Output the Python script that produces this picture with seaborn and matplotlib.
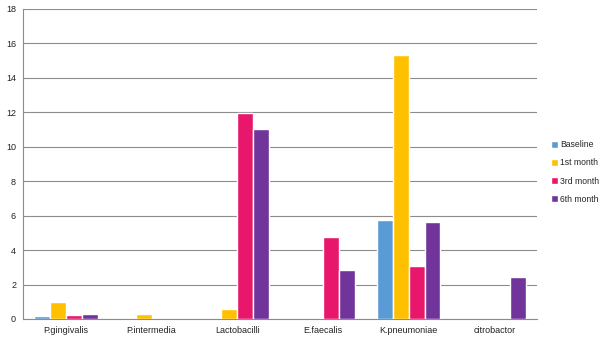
import matplotlib
matplotlib.use("Agg")
import matplotlib.pyplot as plt
import seaborn as sns
import pandas as pd
import numpy as np

categories = ["P.gingivalis", "P.intermedia", "Lactobacilli", "E.faecalis", "K.pneumoniae", "citrobactor"]
periods = ["Baseline", "1st month", "3rd month", "6th month"]
baseline = [0.2, 0.0, 0.0, 0.0, 5.72, 0.0]
month1 = [1.0, 0.3, 0.56, 0.0, 15.3, 0.0]
month3 = [0.25, 0.0, 11.95, 4.76, 3.07, 0.0]
month6 = [0.3, 0.0, 11.03, 2.83, 5.63, 2.41]
colors = ["#5B9BD5", "#FFC000", "#E8176B", "#70349A"]

rows = []
for period, vals in zip(periods, [baseline, month1, month3, month6]):
    for cat, v in zip(categories, vals):
        rows.append({"organism": cat, "period": period, "value": v})
df = pd.DataFrame(rows)

sns.set_style("white")
plt.rcParams["font.family"] = ["Liberation Sans", "DejaVu Sans"]

fig = plt.figure(figsize=(6.14, 3.43), dpi=100)
ax = fig.add_axes([0.0375, 0.07, 0.8375, 0.904])

sns.barplot(data=df, x="organism", y="value", hue="period", order=categories,
            hue_order=periods, palette=colors, width=0.74, saturation=1,
            errorbar=None, ax=ax, zorder=3)

ax.set_ylim(0, 18)
ax.set_xlim(-0.5, len(categories) - 0.5)
ax.set_yticks(np.arange(0, 19, 2))
ax.yaxis.grid(True, color="#8c8c8c", linewidth=0.8, zorder=0)
ax.set_axisbelow(True)
ax.set_xlabel("")
ax.set_ylabel("")

ax.set_xticks(np.arange(-0.5, len(categories), 1.0), minor=True)
ax.tick_params(axis="x", which="major", length=0, labelsize=6.5, colors="#222222", pad=5)
ax.tick_params(axis="x", which="minor", length=3, color="#8c8c8c", width=0.8)
ax.tick_params(axis="y", length=3, color="#8c8c8c", width=0.8, labelsize=6.5, labelcolor="#222222", pad=2)

for side in ["top", "right"]:
    ax.spines[side].set_visible(False)
for side in ["left", "bottom"]:
    ax.spines[side].set_color("#8c8c8c")
    ax.spines[side].set_linewidth(0.8)

leg = ax.legend(loc="center left", bbox_to_anchor=(1.012, 0.474), frameon=False,
                fontsize=6.2, handlelength=0.75, handleheight=0.75,
                handletextpad=0.3, labelspacing=1.05)

fig.savefig("out.png", dpi=100)
